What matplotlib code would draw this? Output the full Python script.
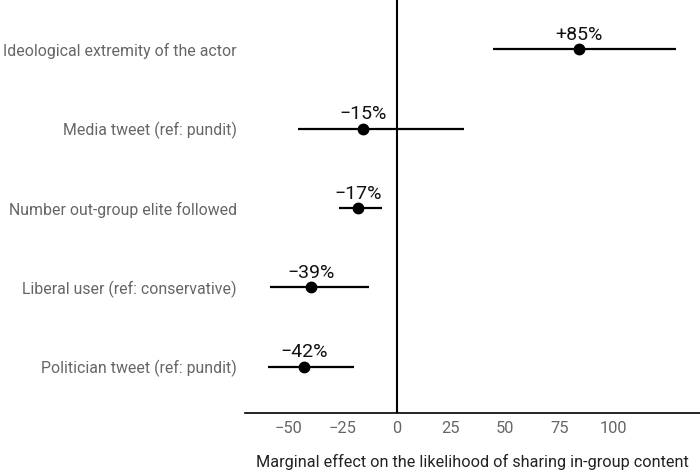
import matplotlib.pyplot as plt
import numpy as np

plt.rcParams['font.family'] = ['Roboto', 'DejaVu Sans']

# data
labels = ['Ideological extremity of the actor',
          'Media tweet (ref: pundit)',
          'Number out-group elite followed',
          'Liberal user (ref: conservative)',
          'Politician tweet (ref: pundit)']
est = [84, -15.7, -17.8, -39.7, -42.8]
lo = [44.3, -45.7, -26.4, -58.5, -59.4]
hi = [129, 30.9, -6.6, -12.6, -19.7]
txt = ['+85%', '\u221215%', '\u221217%', '\u221239%', '\u221242%']

ypos = np.arange(len(labels))[::-1]

fig = plt.figure(figsize=(7, 4.76), dpi=100)
ax = fig.add_axes([0.35, 0.1324, 0.65, 0.8676])

ax.axvline(0, color='black', lw=1.5, zorder=1)
ax.hlines(ypos, lo, hi, color='black', lw=1.6, zorder=2)
ax.plot(est, ypos, 'o', color='black', ms=7.5, zorder=3)
for x, y, t in zip(est, ypos, txt):
    ax.annotate(t, (x, y), xytext=(0, 4), textcoords='offset points',
                ha='center', va='bottom', fontsize=14, color='#111111')

ax.set_xlim(-70, 140)
ax.set_ylim(-0.58, 4.62)
ax.set_xticks([-50, -25, 0, 25, 50, 75, 100])
ax.set_xticklabels(['\u221250', '\u221225', '0', '25', '50', '75', '100'])
ax.set_yticks(ypos)
ax.set_yticklabels(labels)
ax.tick_params(axis='x', length=0, labelsize=11.8, labelcolor='#666666', pad=6)
ax.tick_params(axis='y', length=0, labelsize=11.4, labelcolor='#666666', pad=6)
for s in ['top', 'right', 'left']:
    ax.spines[s].set_visible(False)
ax.spines['bottom'].set_linewidth(1.2)
ax.set_xlabel('Marginal effect on the likelihood of sharing in-group content',
              fontsize=11.7, color='#222222', labelpad=13)

fig.savefig('out.png', dpi=100)
